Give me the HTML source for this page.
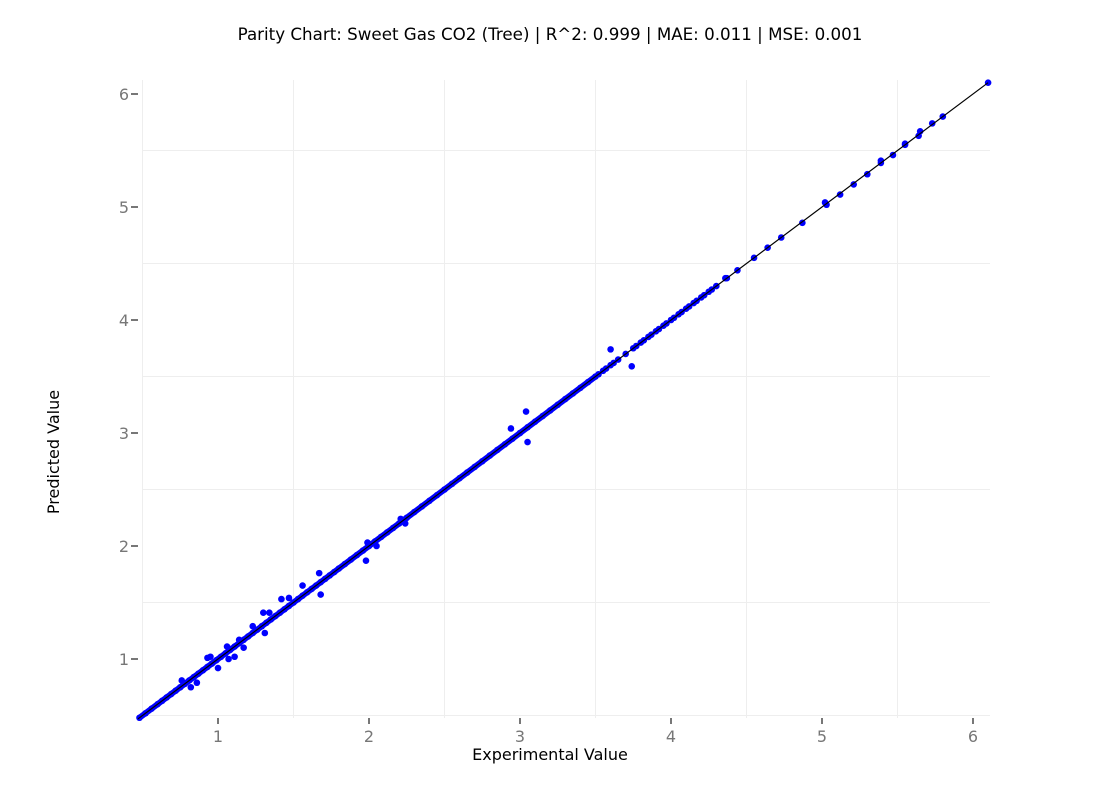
<!DOCTYPE html>
<html><head><meta charset="utf-8"><style>
body{margin:0;background:#fff;width:1100px;height:800px;overflow:hidden;font-family:"DejaVu Sans","Liberation Sans",sans-serif}
</style></head><body>
<svg id="chart" width="1100" height="800" xmlns="http://www.w3.org/2000/svg">
<text x="550" y="40" text-anchor="middle" font-size="16.7" fill="#000">Parity Chart: Sweet Gas CO2 (Tree) | R^2: 0.999 | MAE: 0.011 | MSE: 0.001</text>
<text x="550" y="760" text-anchor="middle" font-size="16" fill="#000">Experimental Value</text>
<text x="0" y="0" transform="translate(59,452) rotate(-90)" text-anchor="middle" font-size="16" fill="#000">Predicted Value</text>
<g id="grid"></g><g id="ticks"></g><g id="line"></g><g id="pts"></g>
</svg>
<script>
const xTicks=[1,2,3,4,5,6];
const yTicks=[1,2,3,4,5,6];
const gridVals=[0.5,1.5,2.5,3.5,4.5,5.5];
const experimental=[0.48,0.52,0.56,0.6,0.63,0.66,0.69,0.72,0.75,0.78,0.81,0.84,0.87,0.9,0.93,0.96,0.99,1.02,1.05,1.08,1.11,1.14,1.17,1.2,1.23,1.26,1.29,1.32,1.35,1.38,1.41,1.44,1.47,1.5,1.53,1.56,1.59,1.62,1.65,1.68,1.71,1.74,1.77,1.8,1.84,1.88,1.92,1.96,2.0,2.04,2.08,2.12,2.16,2.2,2.25,2.3,2.35,2.4,2.45,2.5,2.55,2.6,2.65,2.7,2.75,2.8,2.85,2.9,2.95,3.0,3.05,3.1,3.15,3.2,3.25,3.3,3.35,3.4,3.45,3.5,3.55,3.6,3.65,3.7,3.75,3.8,3.85,3.9,3.95,4.0,4.05,4.1,4.15,4.2,4.25,4.3,4.37,4.44,4.55,4.64,4.73,4.87,5.03,5.12,5.21,5.3,5.39,5.47,5.55,5.64,5.73,5.8,6.1,
3.52,3.57,3.62,3.77,3.82,3.87,3.92,3.97,4.02,4.07,4.12,4.17,4.22,4.27,4.36,5.02,5.39,5.55,5.65,
1.56,1.67,1.68,1.42,1.47,1.3,1.34,1.23,0.93,0.95,1.0,1.07,1.11,1.31,0.76,0.82,0.86,1.98,1.99,2.05,2.21,2.24,2.94,3.04,3.05,3.6,3.74,1.14,1.17,1.06];
const predicted=[0.48,0.52,0.56,0.6,0.63,0.66,0.69,0.72,0.75,0.78,0.81,0.84,0.87,0.9,0.93,0.96,0.99,1.02,1.05,1.08,1.11,1.14,1.17,1.2,1.23,1.26,1.29,1.32,1.35,1.38,1.41,1.44,1.47,1.5,1.53,1.56,1.59,1.62,1.65,1.68,1.71,1.74,1.77,1.8,1.84,1.88,1.92,1.96,2.0,2.04,2.08,2.12,2.16,2.2,2.25,2.3,2.35,2.4,2.45,2.5,2.55,2.6,2.65,2.7,2.75,2.8,2.85,2.9,2.95,3.0,3.05,3.1,3.15,3.2,3.25,3.3,3.35,3.4,3.45,3.5,3.55,3.6,3.65,3.7,3.75,3.8,3.85,3.9,3.95,4.0,4.05,4.1,4.15,4.2,4.25,4.3,4.37,4.44,4.55,4.64,4.73,4.86,5.02,5.11,5.2,5.29,5.39,5.46,5.55,5.63,5.74,5.8,6.1,
3.52,3.57,3.62,3.77,3.82,3.87,3.92,3.97,4.02,4.07,4.12,4.17,4.22,4.27,4.37,5.04,5.41,5.56,5.67,
1.65,1.76,1.57,1.53,1.54,1.41,1.41,1.29,1.01,1.02,0.92,1.0,1.02,1.23,0.81,0.75,0.79,1.87,2.03,2.0,2.24,2.2,3.04,3.19,2.92,3.74,3.59,1.17,1.1,1.11];
const X0=142.5,XS=151,Y0=715.5,YS=113;
const sx=v=>X0+(v-0.5)*XS, sy=v=>Y0-(v-0.5)*YS;
const NS="http://www.w3.org/2000/svg";
function mk(tag,attrs,parent){const e=document.createElementNS(NS,tag);for(const k in attrs)e.setAttribute(k,attrs[k]);document.getElementById(parent).appendChild(e);return e;}
gridVals.forEach(v=>{
 const a=mk('line',{x1:sx(v),x2:sx(v),y1:80,y2:718,stroke:'#eee','stroke-width':1},'grid');
 
 
 const b=mk('line',{x1:142,x2:990,y1:sy(v),y2:sy(v),stroke:'#eee','stroke-width':1},'grid');
 
 
});
xTicks.forEach(v=>{
 const t=mk('line',{x1:sx(v),x2:sx(v),y1:718,y2:724,stroke:'#777','stroke-width':2},'ticks');
 
 
 const l=mk('text',{x:sx(v),y:742,'text-anchor':'middle','font-size':16,fill:'#777'},'ticks');l.textContent=v;
 
 
});
yTicks.forEach(v=>{
 const t=mk('line',{x1:131,x2:138,y1:sy(v),y2:sy(v),stroke:'#777','stroke-width':2},'ticks');
 
 
 const l=mk('text',{x:129,y:sy(v)+6,'text-anchor':'end','font-size':16,fill:'#777'},'ticks');l.textContent=v;
 
 
});
const lo=0.47,hi=6.1;
const th=mk('line',{x1:sx(0.48),y1:sy(0.48),x2:sx(3.5),y2:sy(3.5),stroke:'#0000ff','stroke-width':6,'stroke-linecap':'round'},'line');


experimental.forEach((x,i)=>{
 const c=mk('circle',{cx:sx(x),cy:sy(predicted[i]),r:3.3,fill:'#0000ff'},'pts');
 
 
});
const ln2=mk('line',{x1:sx(lo),y1:sy(lo),x2:sx(hi),y2:sy(hi),stroke:'#000','stroke-width':1.2},'pts');


</script>
</body></html>
